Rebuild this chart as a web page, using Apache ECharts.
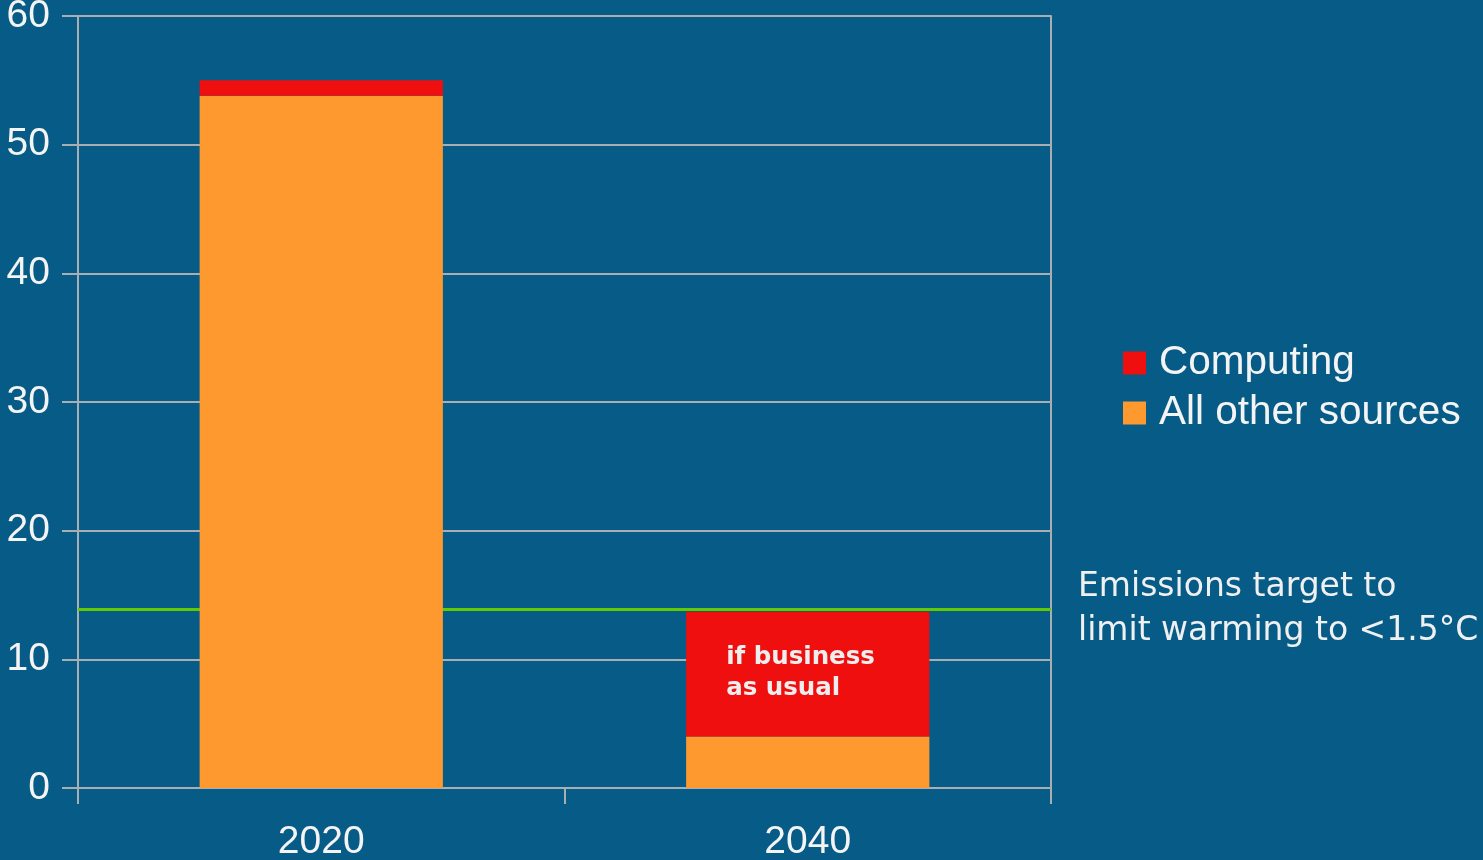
<!DOCTYPE html>
<html>
<head>
<meta charset="utf-8">
<script src="https://cdn.jsdelivr.net/npm/echarts@6/dist/echarts.min.js"></script>
<style>
html,body{margin:0;padding:0;background:#075b87;}
#chart{width:1483px;height:860px;}
</style>
</head>
<body>
<div id="chart"></div>
<script>
const categories = ['2020', '2040'];
const otherSources = [53.8, 4.0];
const computing = [1.2, 9.7];
const targetValue = 13.9;
const yTicks = [0, 10, 20, 30, 40, 50, 60];
const barNote = 'if business\nas usual';
const targetNote = 'Emissions target to\nlimit warming to <1.5°C';

const gridColor = '#a9aeb3';
const chart = echarts.init(document.getElementById('chart'));
chart.setOption({
  backgroundColor: '#075b87',
  animation: false,
  grid: {left: 78, right: 432, top: 16, bottom: 72, containLabel: false, outerBoundsMode: 'none'},
  legend: {
    orient: 'vertical',
    left: 1118, top: 336,
    icon: 'rect', itemWidth: 23, itemHeight: 23, itemGap: 6,
    data: ['Computing', 'All other sources'],
    textStyle: {color: '#f4f4f4', fontFamily: 'Liberation Sans', fontSize: 40.5, lineHeight: 44, padding: [0, 0, 0, 8]}
  },
  xAxis: {
    type: 'category', data: categories,
    axisLine: {lineStyle: {color: gridColor, width: 2}},
    axisTick: {show: true, length: 16, lineStyle: {color: gridColor, width: 2}},
    axisLabel: {color: '#f4f4f4', fontFamily: 'Liberation Sans', fontSize: 39, margin: 35}
  },
  yAxis: [{
    type: 'value', min: yTicks[0], max: yTicks[yTicks.length - 1], interval: 10,
    axisLine: {show: true, lineStyle: {color: gridColor, width: 2}},
    axisTick: {show: true, length: 16, lineStyle: {color: gridColor, width: 2}},
    axisLabel: {color: '#f4f4f4', fontFamily: 'Liberation Sans', fontSize: 39, margin: 28},
    splitLine: {lineStyle: {color: gridColor, width: 2}}
  }, {
    type: 'value', min: yTicks[0], max: yTicks[yTicks.length - 1], interval: 10, position: 'right',
    axisLine: {show: true, lineStyle: {color: gridColor, width: 2}},
    axisTick: {show: false}, axisLabel: {show: false}, splitLine: {show: false}
  }],
  series: [
    {
      name: 'Target', type: 'line', data: [], z: 1, silent: true,
      markLine: {
        symbol: 'none', silent: true, z: 1,
        lineStyle: {color: '#5fcb00', width: 3, type: 'solid'},
        label: {show: false},
        data: [{yAxis: targetValue}]
      }
    },
    {
      name: 'All other sources', type: 'bar', stack: 'total', barWidth: '50%', z: 3,
      itemStyle: {color: '#fe9930'},
      data: otherSources
    },
    {
      name: 'Computing', type: 'bar', stack: 'total', barWidth: '50%', z: 3,
      itemStyle: {color: '#ef0f0f'},
      data: computing.map((v, i) => i === 1 ? {
        value: v,
        label: {show: true, position: [40, 30], formatter: barNote, color: '#eeeeee',
          fontFamily: 'DejaVu Sans', fontWeight: 'bold', fontSize: 24.5, lineHeight: 31, align: 'left', verticalAlign: 'top'}
      } : v)
    }
  ],
  graphic: [{
    type: 'text', left: 1078, top: 565,
    style: {text: targetNote, fill: '#f0f0f0', font: '33px "DejaVu Sans"', lineHeight: 44}
  }]
});
</script>
</body>
</html>
